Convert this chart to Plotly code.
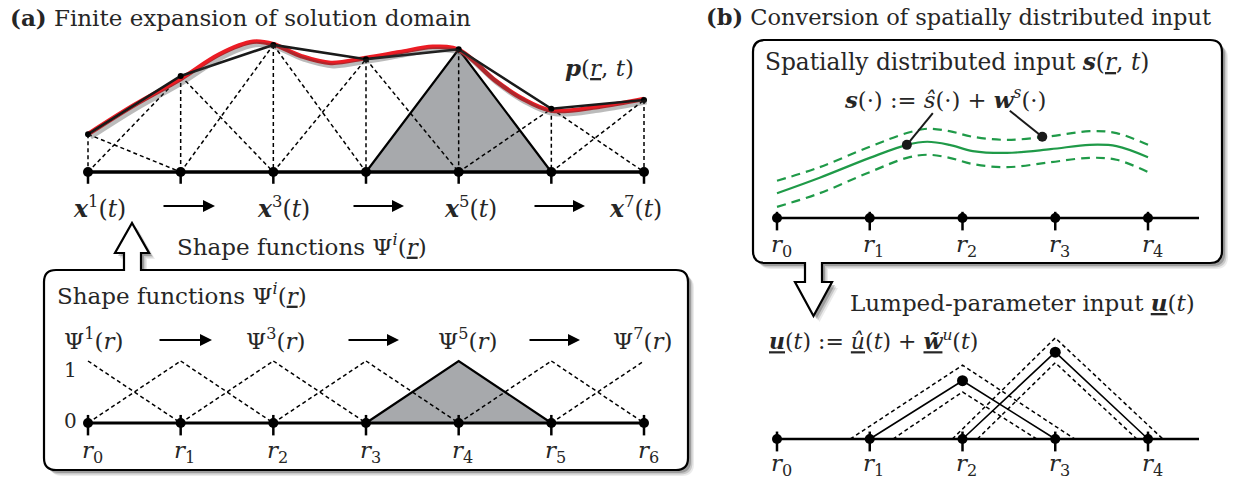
import plotly.graph_objects as go

W, H = 1235, 482

# ---------------- data ----------------
# (a) finite expansion of the solution domain
nodes_a = [0, 1, 2, 3, 4, 5, 6]
p_nodal = [0.61, 1.55, 2.05, 1.82, 1.98, 1.02, 1.16]          # x^i(t) values at r_i
p_curve_r = [0.0, 0.5, 1.0, 1.42, 1.78, 2.0, 2.3, 2.62, 3.0, 3.36, 3.72, 4.0, 4.4, 4.68, 5.0, 5.5, 6.0]
p_curve_v = [0.61, 1.08, 1.50, 1.90, 2.10, 2.06, 1.87, 1.76, 1.84, 1.93, 2.02, 1.97, 1.47, 1.19, 0.99, 1.05, 1.18]
shaded_node = 4
state_nodes = [0, 2, 4, 6]
state_labels = ["1", "3", "5", "7"]
psi_peak = 1.0
r_labels_a = ["0", "1", "2", "3", "4", "5", "6"]

# (b) conversion of spatially distributed input
nodes_b = [0, 1, 2, 3, 4]
r_labels_b = ["0", "1", "2", "3", "4"]
axis_end_b = 4.55
s_r = [0.0, 0.46, 1.0, 1.40, 1.62, 1.86, 2.11, 2.48, 2.95, 3.37, 3.66, 4.0]
s_hat = [0.40, 0.65, 0.97, 1.18, 1.23, 1.18, 1.08, 1.05, 1.11, 1.18, 1.16, 0.98]
s_upper = [0.60, 0.82, 1.15, 1.37, 1.44, 1.40, 1.31, 1.26, 1.32, 1.40, 1.37, 1.18]
s_lower = [0.18, 0.40, 0.74, 0.97, 1.02, 0.97, 0.87, 0.82, 0.90, 0.97, 0.94, 0.74]
s_marker_r = [1.40, 2.86]
s_marker_v = [1.18, 1.31]
s_pointer_r = [1.68, 2.51]
s_pointer_v = [1.69, 1.73]
u_center = [2, 3]
u_hat = [0.94, 1.40]
w_up_peak = [1.19, 1.63]
w_up_left = [0.79, 1.89]
w_up_right = [3.21, 4.16]
w_lo_peak = [0.76, 1.23]
w_lo_left = [1.25, 2.16]
w_lo_right = [2.80, 3.88]

# ---------------- layout geometry (pixels) ----------------
AX0, AX6 = 88, 644
BX0, BX4 = 777, 1148
A_TOP_BASE, A_BOT_BASE = 172, 423
B_TOP_BASE, B_BOT_BASE = 218, 439
VS = 62.0
FONT = "DejaVu Serif"
TXT = "#262626"
GRAY = "#a7a9ac"
RED = "#ec1c24"
GREEN = "#1f9a48"


def xr(p0, p1, n, shift=0.0):
    s = (p1 - p0) / n
    p0 = p0 + shift
    return [-p0 / s, (W - p0) / s]


def yr(q0, shift=0.0):
    q0 = q0 + shift
    return [-(H - q0) / VS, q0 / VS]


subs = {
    2: (xr(AX0, AX6, 6), yr(A_TOP_BASE)),
    3: (xr(AX0, AX6, 6, 2.5), yr(A_TOP_BASE, 3.0)),   # shadow layer
    4: (xr(AX0, AX6, 6), yr(A_BOT_BASE)),
    5: (xr(BX0, BX4, 4), yr(B_TOP_BASE)),
    6: (xr(BX0, BX4, 4), yr(B_BOT_BASE)),
}

fig = go.Figure()


def add(sub, x, y, **kw):
    xa = "x" if sub == 1 else f"x{sub}"
    ya = "y" if sub == 1 else f"y{sub}"
    kw.setdefault("mode", "lines")
    fig.add_trace(go.Scatter(x=x, y=y, xaxis=xa, yaxis=ya, hoverinfo="skip",
                             showlegend=False, **kw))


def hats(nodes, heights, skip):
    xs, ys = [], []
    for i, h in zip(nodes, heights):
        if i == skip:
            continue
        if i - 1 >= nodes[0]:
            xs += [i - 1, i, None]
            ys += [0, h, None]
        if i + 1 <= nodes[-1]:
            xs += [i, i + 1, None]
            ys += [h, 0, None]
    return xs, ys


def ticks(nodes, up, down):
    xs, ys = [], []
    for i in nodes:
        xs += [i, i, None]
        ys += [up, down, None]
    return xs, ys


# ---------- panel (a) top ----------
k = shaded_node
add(2, [k - 1, k, k + 1, k - 1], [0, p_nodal[k], 0, 0], fill="toself", fillcolor=GRAY,
    line=dict(color="black", width=2.2))
hx, hy = hats(nodes_a, p_nodal, shaded_node)
vx, vy = [], []
for i, h in zip(nodes_a, p_nodal):
    vx += [i, i, None]
    vy += [h, 0, None]
add(2, hx + vx, hy + vy, line=dict(color="black", width=1.5, dash="4px,3px"))
add(2, [nodes_a[0], nodes_a[-1]], [0, 0], line=dict(color="black", width=3.5))
tx, ty = ticks(nodes_a, 0, -0.19)
add(2, tx, ty, line=dict(color="black", width=2.5))
add(3, p_curve_r, p_curve_v, line=dict(color="rgba(60,60,60,0.35)", width=5, shape="spline"))
add(2, p_curve_r, p_curve_v, line=dict(color=RED, width=4.5, shape="spline"))
add(2, nodes_a, p_nodal, mode="lines+markers", line=dict(color="#1a1a1a", width=2.6),
    marker=dict(color="black", size=6))
add(2, nodes_a, [0] * len(nodes_a), mode="markers", marker=dict(color="black", size=10))

# ---------- panel (a) bottom ----------
add(4, [k - 1, k, k + 1, k - 1], [0, psi_peak, 0, 0], fill="toself", fillcolor=GRAY,
    line=dict(color="black", width=2.2))
hx, hy = hats(nodes_a, [psi_peak] * len(nodes_a), shaded_node)
add(4, hx, hy, line=dict(color="black", width=1.5, dash="4px,3px"))
add(4, [nodes_a[0], nodes_a[-1]], [0, 0], line=dict(color="black", width=3.2))
tx, ty = ticks(nodes_a, 0.13, -0.2)
add(4, tx, ty, line=dict(color="black", width=2.5))
add(4, nodes_a, [0] * len(nodes_a), mode="markers", marker=dict(color="black", size=10))

# ---------- panel (b) top ----------
add(5, s_r, s_upper, line=dict(color=GREEN, width=2.2, dash="9px,6px", shape="spline"))
add(5, s_r, s_lower, line=dict(color=GREEN, width=2.2, dash="9px,6px", shape="spline"))
add(5, s_r, s_hat, line=dict(color=GREEN, width=2.2, shape="spline"))
add(5, [nodes_b[0], axis_end_b], [0, 0], line=dict(color="black", width=2.4))
tx, ty = ticks(nodes_b, 0.1, -0.2)
add(5, tx, ty, line=dict(color="black", width=2.5))
add(5, nodes_b, [0] * len(nodes_b), mode="markers", marker=dict(color="black", size=10))
px_, py_ = [], []
for a, b, c, d in zip(s_pointer_r, s_pointer_v, s_marker_r, s_marker_v):
    px_ += [a, c, None]
    py_ += [b, d, None]
add(5, px_, py_, line=dict(color="#1a1a1a", width=2))
add(5, s_marker_r, s_marker_v, mode="markers", marker=dict(color="#1a1a1a", size=10))

# ---------- panel (b) bottom ----------
dx, dy = [], []
for pk, l, r, c in zip(w_up_peak, w_up_left, w_up_right, u_center):
    dx += [l, c, r, None]
    dy += [0, pk, 0, None]
for pk, l, r, c in zip(w_lo_peak, w_lo_left, w_lo_right, u_center):
    dx += [l, c, r, None]
    dy += [0, pk, 0, None]
add(6, dx, dy, line=dict(color="black", width=1.5, dash="4px,3px"))
ux, uy = [], []
for c, u in zip(u_center, u_hat):
    ux += [c - 1, c, c + 1, None]
    uy += [0, u, 0, None]
add(6, ux, uy, line=dict(color="black", width=1.6))
add(6, [nodes_b[0], axis_end_b], [0, 0], line=dict(color="black", width=2.4))
tx, ty = ticks(nodes_b, 0.12, -0.2)
add(6, tx, ty, line=dict(color="black", width=2.5))
add(6, nodes_b, [0] * len(nodes_b), mode="markers", marker=dict(color="black", size=10))
add(6, u_center, u_hat, mode="markers", marker=dict(color="black", size=11))

# ---------------- boxes (paper-referenced shapes) ----------------


def to_path(cmds, dx=0.0, dy=0.0):
    out = []
    for c in cmds:
        op, pts = c[0], c[1:]
        if op == "Z":
            out.append("Z")
            continue
        xy = []
        for j in range(0, len(pts), 2):
            xx = (pts[j] + dx) / W
            yy = 1 - (pts[j + 1] + dy) / H
            xy.append(f"{xx:.5f},{yy:.5f}")
        out.append(op + " " + " ".join(xy))
    return " ".join(out)


R = 12
box_a = [("M", 124, 270), ("L", 124, 253), ("L", 115, 253), ("L", 132, 223), ("L", 149, 253),
         ("L", 141, 253), ("L", 141, 270), ("L", 688 - R, 270), ("Q", 688, 270, 688, 270 + R),
         ("L", 688, 470 - R), ("Q", 688, 470, 688 - R, 470), ("L", 44 + R, 470),
         ("Q", 44, 470, 44, 470 - R), ("L", 44, 270 + R), ("Q", 44, 270, 44 + R, 270), ("Z",)]
box_b = [("M", 753 + R, 40), ("L", 1222 - R, 40), ("Q", 1222, 40, 1222, 40 + R),
         ("L", 1222, 263 - R), ("Q", 1222, 263, 1222 - R, 263), ("L", 822, 263), ("L", 822, 282),
         ("L", 832, 282), ("L", 813.5, 316), ("L", 795, 282), ("L", 805, 282), ("L", 805, 263),
         ("L", 753 + R, 263), ("Q", 753, 263, 753, 263 - R), ("L", 753, 40 + R),
         ("Q", 753, 40, 753 + R, 40), ("Z",)]

shapes = []
for box in (box_a, box_b):
    for off, alpha in ((6, 0.08), (4.5, 0.14), (3, 0.22)):
        shapes.append(dict(type="path", xref="paper", yref="paper", layer="below",
                           path=to_path(box, off, off), line=dict(width=0),
                           fillcolor=f"rgba(0,0,0,{alpha})"))
    shapes.append(dict(type="path", xref="paper", yref="paper", layer="below",
                       path=to_path(box), line=dict(color="black", width=2.2),
                       fillcolor="white"))

# ---------------- text ----------------
ann = []


def text(x, y, s, anchor="center", size=23, xref="x", yref="y", xshift=0):
    ann.append(dict(x=x, y=y, xref=xref, yref=yref, text=s, showarrow=False,
                    xanchor=anchor, yanchor="middle", xshift=xshift,
                    font=dict(family=FONT, size=size, color=TXT)))


def arrow(x0, x1, y):
    ann.append(dict(x=x1, y=y, ax=x0, ay=y, xref="x", yref="y", axref="x", ayref="y",
                    text="", showarrow=True, arrowhead=2, arrowsize=1.2,
                    arrowwidth=2, arrowcolor="black"))


text(8, 17, "<b>(a)</b> Finite expansion of solution domain", "left", 23)
text(704, 17, "<b>(b)</b> Conversion of spatially distributed input", "left", 22.5)
text(599, 67, "<b><i>p</i></b>(<u><i>r</i></u>, <i>t</i>)", size=23)

state_xshift = [11, 10, 12, -9]
for n, lab, sh in zip(state_nodes, state_labels, state_xshift):
    text(n, -0.57, f"<b><i>x</i></b><sup>{lab}</sup>(<i>t</i>)", xref="x2", yref="y2",
         xshift=sh, size=23.5)
for a0, a1 in ((162, 215), (352, 404), (533, 585)):
    arrow(a0, a1, 206)

text(175, 245, "Shape functions Ψ<sup><i>i</i></sup>(<u><i>r</i></u>)", "left", 23)
text(55, 294, "Shape functions Ψ<sup><i>i</i></sup>(<u><i>r</i></u>)", "left", 23)
psi_xshift = [5, 2, 9, -2]
for n, lab, sh in zip(state_nodes, state_labels, psi_xshift):
    text(n, 1.35, f"Ψ<sup>{lab}</sup>(<i>r</i>)", xref="x4", yref="y4", xshift=sh, size=23)
for a0, a1 in ((158, 212), (347, 399), (528, 580)):
    arrow(a0, a1, 340)
text(70, 370, "1", size=20)
text(70, 421, "0", size=20)
for n, lab in zip(nodes_a, r_labels_a):
    text(n, -0.47, f"<i>r</i><sub>{lab}</sub>", xref="x4", yref="y4", xshift=4, size=23)

text(763, 61, "Spatially distributed input <b><i>s</i></b>(<u><i>r</i></u>, <i>t</i>)", "left", 23.3)
text(945, 98, "<b><i>s</i></b>(·) := <i>ŝ</i>(·) + <b><i>w</i></b><sup><i>s</i></sup>(·)", size=22.7)
for n, lab in zip(nodes_b, r_labels_b):
    text(n, -0.45, f"<i>r</i><sub>{lab}</sub>", xref="x5", yref="y5", xshift=4, size=23)
text(848, 302, "Lumped-parameter input <u><b><i>u</i></b></u>(<i>t</i>)", "left", 23)
text(767, 340, "<u><b><i>u</i></b></u>(<i>t</i>) := <u><i>û</i></u>(<i>t</i>) + "
     "<u><b><i>w̃</i></b></u><sup><i>u</i></sup>(<i>t</i>)", "left", 22)
for n, lab in zip(nodes_b, r_labels_b):
    text(n, -0.42, f"<i>r</i><sub>{lab}</sub>", xref="x6", yref="y6", xshift=4, size=23)

# ---------------- layout ----------------
layout = dict(
    width=W, height=H, margin=dict(l=0, r=0, t=0, b=0),
    paper_bgcolor="white", plot_bgcolor="rgba(0,0,0,0)",
    xaxis=dict(range=[0, W], visible=False, domain=[0, 1], fixedrange=True),
    yaxis=dict(range=[H, 0], visible=False, domain=[0, 1], fixedrange=True),
    shapes=shapes, annotations=ann, showlegend=False, hovermode=False,
)
for i, (xrg, yrg) in subs.items():
    layout[f"xaxis{i}"] = dict(range=xrg, visible=False, overlaying="x", anchor=f"y{i}",
                               fixedrange=True)
    layout[f"yaxis{i}"] = dict(range=yrg, visible=False, overlaying="y", anchor=f"x{i}",
                               fixedrange=True)
fig.update_layout(**layout)

fig.write_html("out.html")
